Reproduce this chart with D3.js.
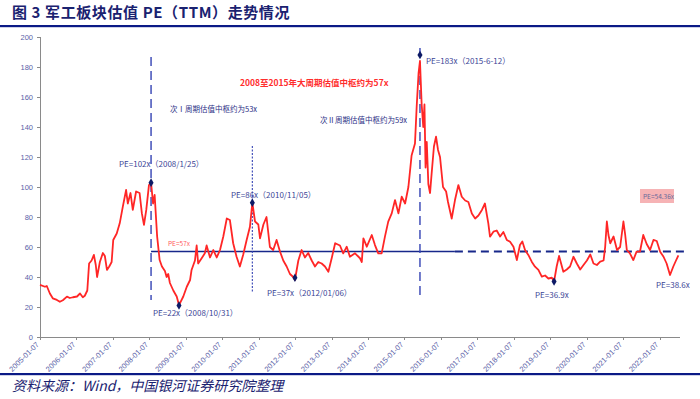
<!DOCTYPE html>
<html lang="zh">
<head>
	<meta charset="utf-8">
	<title>军工板块估值 PE（TTM）走势情况</title>
	<style type="text/css">
		html, body {
			margin: 0;
			padding: 0;
			background: #fff;
		}
		svg {
			display: block;
		}
		.axis path,
		.axis line {
			stroke: #8a8a8a;
			shape-rendering: crispEdges;
		}
		.axis text {
			font-family: "Liberation Sans", "Noto Sans", sans-serif;
			font-size: 7.5px;
			fill: #5b5fa8;
		}
		.note {
			font-family: "Noto Sans CJK SC", sans-serif;
		}
	</style>
</head>
<body>
	<script src="https://cdn.jsdelivr.net/npm/d3@7/dist/d3.min.js"></script>
	<script type="text/javascript">

		var w = 700;
		var h = 399;

		//Weekly PE (TTM), thinned
		var dates = [
			"2005-01-07","2005-02-26","2005-03-16","2005-04-16","2005-05-15","2005-06-25","2005-07-25","2005-08-24",
			"2005-10-04","2005-11-02","2005-12-03","2006-01-13","2006-02-12","2006-03-12","2006-04-01","2006-04-26",
			"2006-05-14","2006-06-08","2006-07-01","2006-07-20","2006-08-02","2006-08-30","2006-09-29","2006-10-19",
			"2006-11-09","2006-12-02","2006-12-26","2007-01-11","2007-02-15","2007-03-17","2007-04-17","2007-05-20",
			"2007-06-06","2007-07-03","2007-07-26","2007-08-28","2007-10-02","2007-10-25","2007-11-15","2007-12-08",
			"2008-01-04","2008-01-25","2008-02-14","2008-03-01","2008-03-26","2008-04-20","2008-05-13","2008-06-12",
			"2008-06-29","2008-07-15","2008-08-01","2008-09-04","2008-10-08","2008-10-31","2008-12-13","2009-01-17",
			"2009-02-19","2009-03-06","2009-04-09","2009-04-26","2009-05-11","2009-06-15","2009-07-17","2009-08-04",
			"2009-09-07","2009-10-10","2009-11-13","2009-12-16","2010-01-18","2010-02-22","2010-03-25","2010-04-27",
			"2010-05-31","2010-07-03","2010-08-06","2010-09-09","2010-10-12","2010-11-05","2010-12-02","2011-01-04",
			"2011-01-21","2011-02-24","2011-03-27","2011-04-30","2011-06-02","2011-07-06","2011-08-09","2011-09-11",
			"2011-10-15","2011-11-17","2011-12-20","2012-01-06","2012-02-09","2012-03-13","2012-04-15","2012-05-18",
			"2012-06-22","2012-07-25","2012-08-27","2012-09-30","2012-11-02","2012-12-06","2013-01-10","2013-02-12",
			"2013-04-01","2013-05-04","2013-06-08","2013-07-10","2013-08-30","2013-10-19","2013-11-06","2013-11-22",
			"2013-12-26","2014-02-14","2014-03-18","2014-04-20","2014-05-24","2014-06-26","2014-07-29","2014-09-02",
			"2014-10-05","2014-11-08","2014-12-11","2015-01-14","2015-02-16","2015-03-20","2015-04-23","2015-05-10",
			"2015-05-29","2015-06-05","2015-06-12","2015-06-29","2015-07-15","2015-07-27","2015-08-07","2015-08-19",
			"2015-09-04","2015-09-21","2015-10-07","2015-10-30","2015-11-20","2015-12-10","2015-12-30","2016-01-29",
			"2016-02-29","2016-03-19","2016-04-25","2016-05-28","2016-07-01","2016-08-04","2016-09-07","2016-10-09",
			"2016-11-13","2016-12-16","2017-01-18","2017-02-22","2017-03-24","2017-04-27","2017-05-14","2017-06-17",
			"2017-07-20","2017-08-23","2017-09-25","2017-10-29","2017-12-01","2018-01-04","2018-02-07","2018-03-10",
			"2018-04-03","2018-04-30","2018-06-02","2018-07-06","2018-08-08","2018-09-11","2018-10-15","2018-11-17",
			"2018-12-20","2019-01-24","2019-02-15","2019-03-13","2019-04-06","2019-05-19","2019-06-22","2019-07-25",
			"2019-08-28","2019-10-01","2019-11-04","2019-12-07","2020-01-10","2020-02-13","2020-03-16","2020-04-19",
			"2020-05-22","2020-06-25","2020-07-11","2020-07-28","2020-08-13","2020-08-31","2020-10-03","2020-11-07",
			"2020-12-08","2021-01-10","2021-01-28","2021-02-13","2021-03-16","2021-04-19","2021-05-22","2021-06-25",
			"2021-07-28","2021-08-31","2021-10-04","2021-11-07","2021-12-10","2022-01-13","2022-02-16","2022-03-19",
			"2022-04-22","2022-05-25","2022-06-21","2022-07-15"
		];

		var pe = [
			34.7, 33.5, 34, 29, 25.8, 24.7, 23.5, 24.5,
			26.9, 26, 26.5, 27, 29, 26.5, 27.5, 31,
			49, 51, 54.7, 48, 40, 50, 56, 54,
			44.7, 47, 50, 64.7, 69, 75.8, 86.9, 98,
			89, 96, 84.7, 97, 96, 82.4, 74.7, 84.7,
			101.3, 102.9, 89, 94.7, 67, 51.3, 47, 44,
			40, 42, 36, 31, 27, 21.3, 27, 33.5,
			38, 44.7, 51, 61, 49, 52.5, 55.8, 61,
			53, 58, 53, 58, 67, 79, 78, 62.5,
			53.5, 47, 55, 64.7, 73.5, 89.5, 77, 75,
			65.8, 75, 80, 60, 58, 64.7, 57, 51,
			47, 42, 40, 38, 51, 58, 53, 56,
			51, 47, 50, 49, 47, 43.5, 53, 62.5,
			61, 55.8, 60.2, 53.5, 55.8, 52.5, 50, 65.8,
			60.2, 68, 61.3, 55.8, 55.8, 66.9, 76.9, 82.4,
			91.3, 82.4, 93.5, 89, 100, 121, 129, 153.5,
			176, 180, 184, 155, 140, 155, 113, 130,
			102, 96, 109, 127, 133.5, 124.7, 120, 100,
			97, 90, 79, 91.3, 101.3, 93.5, 91, 90,
			82.4, 79, 81, 84.7, 89, 75.8, 66.9, 70.2,
			71, 67, 70, 64.7, 63.5, 60.2, 51.3, 61.3,
			63.7, 58, 54.7, 50.2, 46.9, 44.7, 40.2, 41,
			39, 39.5, 37, 47, 54, 43.5, 45, 47,
			53.5, 49, 45, 48, 51, 55, 49, 48,
			50.2, 51, 60, 77, 68, 62.5, 67, 58,
			60, 77, 68, 58, 55.8, 51.3, 56.9, 57,
			68, 62, 58, 64.7, 64, 56.9, 53.5, 49,
			41.3, 47, 51, 54.4
		];

		var xTickLabels = [
			"2005-01-07","2006-01-07","2007-01-07","2008-01-07","2009-01-07","2010-01-07",
			"2011-01-07","2012-01-07","2013-01-07","2014-01-07","2015-01-07","2016-01-07",
			"2017-01-07","2018-01-07","2019-01-07","2020-01-07","2021-01-07","2022-01-07"
		];
		var yTicks = [0, 20, 40, 60, 80, 100, 120, 140, 160, 180, 200];

		//Marked points
		var markDates = ["2008-01-25", "2008-10-31", "2010-11-05", "2012-01-06", "2015-06-12", "2019-02-15"];
		var markValues = [102.9, 21, 89.5, 39.5, 188, 37];

		//Vertical reference lines: date, top, bottom (PE units)
		var vDates = ["2008-01-25", "2010-11-05", "2015-06-12"];
		var vTop = [186.7, 127.3, 192.7];
		var vBottom = [24.7, 30.2, 26.9];

		//Valuation centre line
		var centreValue = 57;
		var centreStart = "2008-01-25";
		var centreSolidEnd = "2016-05-27";
		var centreEnd = "2022-10-07";

		var parse = d3.timeParse("%Y-%m-%d");

		var xScale = d3.scaleTime()
						.domain([parse("2005-01-07"), parse("2022-07-21")])
						.range([40, 679]);

		var yScale = d3.scaleLinear()
						.domain([0, 200])
						.range([337, 37]);

		var svg = d3.select("body")
					.append("svg")
					.attr("width", w)
					.attr("height", h);

		//Title and rules
		svg.append("text")
			.attr("x", 12)
			.attr("y", 18)
			.attr("font-family", "'Noto Sans CJK SC', sans-serif")
			.attr("font-weight", "bold")
			.attr("font-size", "15px")
			.attr("letter-spacing", "0.6px")
			.attr("fill", "#1a2270")
			.text("图 3  军工板块估值 PE（TTM）走势情况");

		svg.append("rect")
			.attr("x", 0)
			.attr("y", 25)
			.attr("width", w)
			.attr("height", 2.2)
			.attr("fill", "#0b1a86");

		svg.append("rect")
			.attr("x", 0)
			.attr("y", 373)
			.attr("width", w)
			.attr("height", 2.2)
			.attr("fill", "#0b1a86");

		svg.append("text")
			.attr("x", 12)
			.attr("y", 391)
			.attr("font-family", "'Noto Sans CJK SC', sans-serif")
			.attr("font-style", "italic")
			.attr("font-size", "14px")
			.attr("fill", "#1a2270")
			.text("资料来源：Wind，中国银河证券研究院整理");

		//Y axis
		var yAxis = d3.axisLeft(yScale)
						.tickValues(yTicks)
						.tickSize(3)
						.tickPadding(4);

		svg.append("g")
			.attr("class", "axis")
			.attr("transform", "translate(40,0)")
			.call(yAxis);

		//X axis
		var xAxis = d3.axisBottom(xScale)
						.tickValues(xTickLabels.map(parse))
						.tickFormat(d3.timeFormat("%Y-%m-%d"))
						.tickSize(3)
						.tickSizeOuter(0);

		var gx = svg.append("g")
			.attr("class", "axis")
			.attr("transform", "translate(0,337)")
			.call(xAxis);

		gx.selectAll("text")
			.attr("text-anchor", "end")
			.attr("dy", null)
			.attr("y", 0)
			.attr("transform", "translate(-1,8) rotate(-45)");

		//Centre line (solid then dashed)
		svg.append("line")
			.attr("x1", xScale(parse(centreStart)))
			.attr("x2", xScale(parse(centreSolidEnd)))
			.attr("y1", yScale(centreValue))
			.attr("y2", yScale(centreValue))
			.attr("stroke", "#17278a")
			.attr("stroke-width", 1.6);

		svg.append("line")
			.attr("x1", xScale(parse(centreSolidEnd)))
			.attr("x2", xScale(parse(centreEnd)))
			.attr("y1", yScale(centreValue))
			.attr("y2", yScale(centreValue))
			.attr("stroke", "#17278a")
			.attr("stroke-width", 1.8)
			.attr("stroke-dasharray", "8,5");

		//Vertical reference lines
		svg.selectAll("line.vref")
			.data(vDates)
			.enter()
			.append("line")
			.attr("class", "vref")
			.attr("x1", function(d) { return xScale(parse(d)); })
			.attr("x2", function(d) { return xScale(parse(d)); })
			.attr("y1", function(d, i) { return yScale(vTop[i]); })
			.attr("y2", function(d, i) { return yScale(vBottom[i]); })
			.attr("stroke", "#3443b4")
			.attr("stroke-width", function(d, i) { return i == 1 ? 1.1 : 1.4; })
			.attr("stroke-dasharray", function(d, i) { return i == 1 ? "2,1.5" : "9,5"; });

		//PE line
		var line = d3.line()
					.x(function(d, i) { return xScale(parse(dates[i])); })
					.y(function(d) { return yScale(d); });

		svg.append("path")
			.datum(pe)
			.attr("d", line)
			.attr("fill", "none")
			.attr("stroke", "#ff2626")
			.attr("stroke-width", 1.8)
			.attr("stroke-linejoin", "round");

		//Markers
		svg.selectAll("path.mark")
			.data(markDates)
			.enter()
			.append("path")
			.attr("class", "mark")
			.attr("d", d3.symbol().type(d3.symbolDiamond).size(22))
			.attr("transform", function(d, i) {
				return "translate(" + xScale(parse(d)) + "," + yScale(markValues[i]) + ")";
			})
			.attr("fill", "#0d1a66");

		//Notes
		var notes = [
			["PE=102x（2008/1/25）", 119, 167, 8, "#3b4596"],
			["PE=22x（2008/10/31）", 153, 316, 8, "#3b4596"],
			["PE=86x（2010/11/05）", 231, 198, 8, "#3b4596"],
			["PE=37x（2012/01/06）", 267, 296, 8, "#3b4596"],
			["PE=183x（2015-6-12）", 426, 64, 8, "#3b4596"],
			["PE=36.9x", 535, 298, 8, "#3b4596"],
			["PE=38.6x", 656, 288, 8, "#3b4596"],
			["PE=57x", 168, 246, 6.5, "#ff5a5a"],
			["次Ⅰ周期估值中枢约为53x", 170, 112, 7.5, "#2b2f86"],
			["次Ⅱ周期估值中枢约为59x", 320, 123, 7.5, "#2b2f86"]
		];

		svg.selectAll("text.note")
			.data(notes)
			.enter()
			.append("text")
			.attr("class", "note")
			.attr("x", function(d) { return d[1]; })
			.attr("y", function(d) { return d[2]; })
			.attr("font-size", function(d) { return d[3] + "px"; })
			.attr("fill", function(d) { return d[4]; })
			.text(function(d) { return d[0]; });

		svg.append("text")
			.attr("class", "note")
			.attr("x", 240)
			.attr("y", 86)
			.attr("font-size", "8.5px")
			.attr("font-weight", "bold")
			.attr("fill", "#ff2d2d")
			.text("2008至2015年大周期估值中枢约为57x");

		//Current PE box
		svg.append("rect")
			.attr("x", 640)
			.attr("y", 189)
			.attr("width", 34)
			.attr("height", 14)
			.attr("fill", "#f6b3b5");

		svg.append("text")
			.attr("class", "note")
			.attr("x", 643)
			.attr("y", 199)
			.attr("font-size", "6.5px")
			.attr("fill", "#6a6a9a")
			.text("PE=54.36x");

	</script>
</body>
</html>
